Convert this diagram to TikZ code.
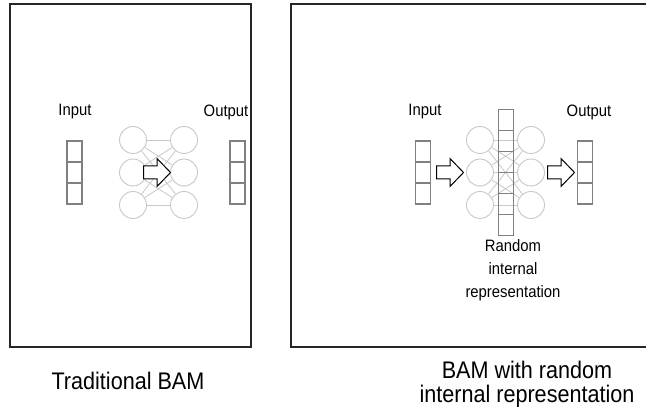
\documentclass[tikz,border=0pt]{standalone}
\usepackage{fontspec}
\setmainfont{Liberation Sans}
\newfontfamily\narrowsans[FakeStretch=0.9]{Liberation Sans}
\newfontfamily\capsans[FakeStretch=0.9]{Liberation Sans}
\definecolor{neurongray}{RGB}{200,200,200}
\definecolor{cellgray}{RGB}{128,128,128}
\tikzset{
  frame/.style={draw=black!85, line width=1.6pt},
  neuron/.style={circle, draw=neurongray, line width=0.9pt, minimum size=27pt, inner sep=0pt},
  conn/.style={draw=neurongray, line width=0.8pt},
  cell/.style={rectangle, draw=cellgray, line width=1.2pt, minimum width=15pt, minimum height=21pt, inner sep=0pt},
  blockarrow/.style={draw=black, fill=white, line width=1pt, line join=miter},
  lbl/.style={font=\narrowsans\fontsize{16.5}{23}\selectfont, inner sep=0pt},
  caption/.style={font=\capsans\fontsize{24}{24}\selectfont, align=center, inner sep=0pt}
}
\begin{document}
\begin{tikzpicture}[x=1pt,y=-1pt]
\useasboundingbox (0,0) rectangle (646,414);
\fill[white] (0,0) rectangle (646,414);
% frames
\draw[frame] (10,4) rectangle (251,347);
\draw[frame] (291,4) rectangle (660,347);

% ---------- left panel ----------
\foreach \r/\y in {1/140,2/172.5,3/205}{
  \node[neuron] (La\r) at (133,\y) {};
  \node[neuron] (Lb\r) at (184,\y) {};
}
\foreach \i in {1,2,3}{
  \foreach \j in {1,2,3}{
    \draw[conn] (La\i) -- (Lb\j);
  }
}
\coordinate (Larr) at (157,172.5);
\draw[blockarrow, shift={(Larr)}] (-13.5,-6.5) -- (0,-6.5) -- (0,-14) -- (13.5,0) -- (0,14) -- (0,6.5) -- (-13.5,6.5) -- cycle;
\foreach \k/\y in {1/151.5,2/172.5,3/193.5}{
  \node[cell] (Lin\k) at (74.5,\y) {};
  \node[cell] (Lout\k) at (237.5,\y) {};
}
\node[lbl] (LinLbl) at (75,112) {Input};
\node[lbl] (LoutLbl) at (226,112) {Output};

% ---------- right panel ----------
\foreach \r/\y in {1/140,2/172.5,3/205}{
  \node[neuron] (Ra\r) at (480,\y) {};
  \node[neuron] (Rb\r) at (531,\y) {};
}
\foreach \i in {1,2,3}{
  \foreach \j in {1,2,3}{
    \draw[conn] (Ra\i) -- (Rb\j);
  }
}
\foreach \k/\y in {1/120,2/141,3/162,4/183,5/204,6/225}{
  \node[cell] (Rmid\k) at (506,\y) {};
}
\foreach \k/\y in {1/151.5,2/172.5,3/193.5}{
  \node[cell] (Rin\k) at (423,\y) {};
  \node[cell] (Rout\k) at (585,\y) {};
}
\coordinate (Rarr1) at (450,172.5);
\coordinate (Rarr2) at (561,172.5);
\foreach \c in {Rarr1,Rarr2}{
  \draw[blockarrow, shift={(\c)}] (-13.5,-6.5) -- (0,-6.5) -- (0,-14) -- (13.5,0) -- (0,14) -- (0,6.5) -- (-13.5,6.5) -- cycle;
}
\node[lbl] (RinLbl) at (425,112) {Input};
\node[lbl] (RoutLbl) at (589,112) {Output};
\node[lbl, align=center] (RirLbl) at (513,270) {Random\\internal\\representation};

% ---------- captions ----------
\node[caption] (capL) at (128,381) {Traditional BAM};
\node[caption] (capR) at (527,384) {BAM with random\\internal representation};
\end{tikzpicture}
\end{document}
